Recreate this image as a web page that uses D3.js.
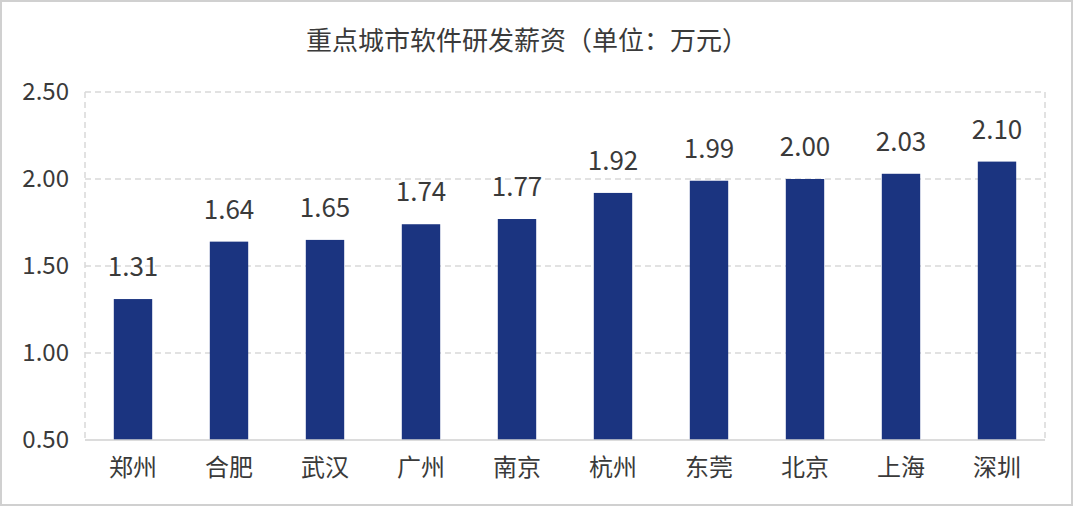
<!DOCTYPE html>
<html><head><meta charset="utf-8">
<script src="https://cdn.jsdelivr.net/npm/d3@7/dist/d3.min.js"></script>
<style>body{margin:0;background:#fff;}svg{display:block;font-family:"Noto Sans CJK SC","Noto Sans",sans-serif;}</style>
</head><body><svg id="c" width="1074" height="508"></svg>
<script>
const title = "重点城市软件研发薪资（单位：万元）";
const categories = ["郑州","合肥","武汉","广州","南京","杭州","东莞","北京","上海","深圳"];
const values = [1.31,1.64,1.65,1.74,1.77,1.92,1.99,2.00,2.03,2.10];
const yTicks = [0.5,1.0,1.5,2.0,2.5];

const svg = d3.select("#c");
const W = 1074, H = 508;
const m = {l:85, r:1045, t:92, b:440};
svg.append("rect").attr("x",1).attr("y",1).attr("width",W-3).attr("height",H-4)
  .attr("fill","#fff").attr("stroke","#d0d0d0").attr("stroke-width",2);

const x = d3.scaleBand().domain(categories).range([m.l,m.r]).paddingInner(0.6).paddingOuter(0.3);
const y = d3.scaleLinear().domain([0.5,2.5]).range([m.b,m.t]);

// grid
const g = svg.append("g");
g.selectAll("line.grid").data(yTicks.filter(d=>d>0.5)).join("line")
  .attr("x1",m.l).attr("x2",m.r).attr("y1",d=>y(d)).attr("y2",d=>y(d))
  .attr("stroke","#d9d9d9").attr("stroke-width",1.5).attr("stroke-dasharray","6,4");
[m.l,m.r].forEach(a=>{
  g.append("line").attr("x1",a).attr("x2",a).attr("y1",m.t).attr("y2",m.b)
   .attr("stroke","#d9d9d9").attr("stroke-width",1.5).attr("stroke-dasharray","6,4");
});

// bars
svg.selectAll("rect.bar").data(values).join("rect").attr("class","bar")
  .attr("x",(d,i)=>x(categories[i])).attr("width",x.bandwidth())
  .attr("y",d=>y(d)).attr("height",d=>y(0.5)-y(d)).attr("fill","#1b3480");

// x axis line
svg.append("line").attr("x1",m.l).attr("x2",m.r).attr("y1",m.b).attr("y2",m.b)
  .attr("stroke","#d0d0d0").attr("stroke-width",1.5);

// y axis labels
const yAxis = d3.axisLeft(y).tickValues(yTicks).tickFormat(d3.format(".2f")).tickSize(0).tickPadding(16);
const ya = svg.append("g").attr("transform",`translate(${m.l},0)`).call(yAxis);
ya.select(".domain").remove();
ya.selectAll("text").attr("font-size",24).attr("fill","#3a3a3a").attr("font-family","'Noto Sans CJK SC'");

// x axis labels
const xAxis = d3.axisBottom(x).tickSize(0).tickPadding(19);
const xa = svg.append("g").attr("transform",`translate(0,${m.b})`).call(xAxis);
xa.select(".domain").remove();
xa.selectAll("text").attr("font-size",24).attr("fill","#3a3a3a").attr("font-family","'Noto Sans CJK SC'");

// data labels
svg.selectAll("text.lbl").data(values).join("text").attr("class","lbl")
  .attr("x",(d,i)=>x(categories[i])+x.bandwidth()/2).attr("y",d=>y(d)-23)
  .attr("text-anchor","middle").attr("font-size",26).attr("fill","#3a3a3a")
  .text(d=>d3.format(".2f")(d));

svg.append("text").attr("x",527).attr("y",50).attr("text-anchor","middle")
  .attr("font-size",26).attr("fill","#3a3a3a").text(title);
</script></body></html>
